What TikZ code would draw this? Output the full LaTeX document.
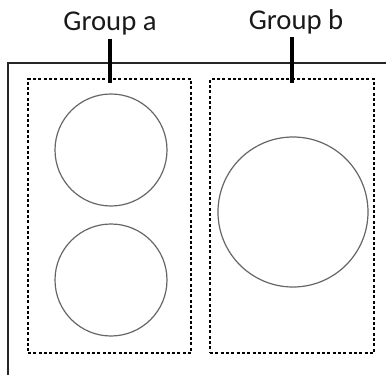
\documentclass[tikz,border=0pt]{standalone}
\usepackage{fontspec}
\setmainfont{Carlito}
\usetikzlibrary{positioning}

\begin{document}
\begin{tikzpicture}[x=0.75pt,y=0.75pt]
\tikzstyle{every node}+=[inner sep=0pt]
\tikzstyle{grpbox}=[draw, line width=1.1pt, dash pattern=on 2.2pt off 1.8pt, minimum height=205.5pt]
\tikzstyle{ring}=[draw=black!60, line width=0.9pt, circle]
\tikzstyle{grplabel}=[font=\fontsize{21.5}{25}\selectfont, text=black!90]
\tikzstyle{grptick}=[line width=3pt]
\useasboundingbox (0,0) rectangle (386,-375);
% outer frame, open to the right and below
\draw [black!85, line width=1.3pt] (386,-63) -- (8,-63) -- (8,-375);
% the two groups
\node [grpbox, minimum width=122.25pt] (boxa) at (109.5,-216) {};
\node [grpbox, minimum width=123pt] (boxb) at (292,-216) {};
\node [ring, minimum size=84pt] (a1) at (111,-150) {};
\node [ring, minimum size=84pt] (a2) at (111,-280) {};
\node [ring, minimum size=112.5pt] (b1) at (293,-212) {};
% labels and their ticks
\node [grplabel] (ga) at (110,-24) {Group a};
\node [grplabel] (gb) at (296,-22) {Group b};
\draw [grptick] ([yshift=-2pt]ga.south) -- ([yshift=-3.75pt]ga.south |- boxa.north);
\draw [grptick] ([yshift=-2pt]boxb.north |- gb.south) -- ([yshift=-3.5pt]boxb.north);
\end{tikzpicture}
\end{document}
